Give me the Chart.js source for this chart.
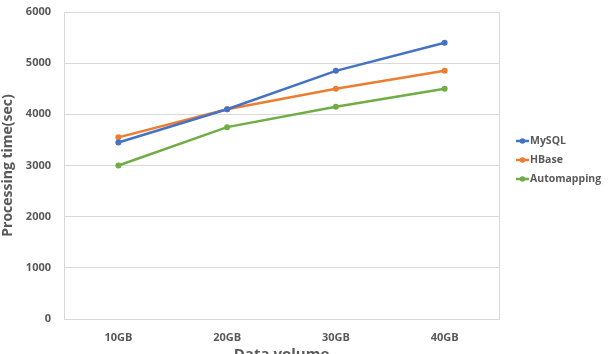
<!DOCTYPE html>
<html>
<head>
<meta charset="utf-8">
<script src="https://cdn.jsdelivr.net/npm/chart.js@4.4.0/dist/chart.umd.min.js"></script>
<style>
  html, body { margin: 0; padding: 0; background: #fff; }
  #wrap { width: 612px; height: 354px; }
</style>
</head>
<body>
<div id="wrap"><canvas id="myChart" width="612" height="354"></canvas></div>
<script>
const labels = ["10GB", "20GB", "30GB", "40GB"];
const mysql = [3450, 4100, 4850, 5400];
const hbase = [3550, 4100, 4500, 4850];
const automapping = [3000, 3750, 4150, 4500];
const yTicks = [0, 1000, 2000, 3000, 4000, 5000, 6000];

const fontFam = "'Open Sans', 'Noto Sans', sans-serif";

// legend drawn at the right like the excel one
const sideLegend = {
    id: 'sideLegend',
    afterDraw(chart) {
        const c = chart.ctx;
        const x = 516, y0 = 141, gap = 19;
        c.save();
        c.font = "bold 10.5px " + fontFam;
        c.textBaseline = 'middle';
        chart.data.datasets.forEach(function(ds, i) {
            const y = y0 + i * gap;
            c.strokeStyle = ds.borderColor;
            c.fillStyle = ds.borderColor;
            c.lineWidth = 2.5;
            c.beginPath();
            c.moveTo(x, y);
            c.lineTo(x + 13, y);
            c.stroke();
            c.beginPath();
            c.arc(x + 6.5, y, 2.8, 0, Math.PI * 2);
            c.fill();
            c.fillStyle = '#595959';
            c.fillText(ds.label, x + 14, y + 0.5);
        });
        c.restore();
    }
};

const ctx = document.getElementById('myChart');

new Chart(ctx, {
    type: 'line',
    data: {
        labels: labels,
        datasets: [{
            label: 'MySQL',
            data: mysql,
            borderColor: '#4472C4',
            backgroundColor: '#4472C4'
        }, {
            label: 'HBase',
            data: hbase,
            borderColor: '#ED7D31',
            backgroundColor: '#ED7D31'
        }, {
            label: 'Automapping',
            data: automapping,
            borderColor: '#70AD47',
            backgroundColor: '#70AD47'
        }]
    },
    options: {
        responsive: false,
        animation: false,
        layout: {
            padding: { left: 0, top: 0, right: 113, bottom: 0 }
        },
        elements: {
            line: { borderWidth: 2.5, tension: 0 },
            point: { radius: 3, borderWidth: 0, pointStyle: 'circle' }
        },
        scales: {
            x: {
                offset: true,
                grid: {
                    drawOnChartArea: false,
                    drawTicks: false,
                    color: '#d9d9d9'
                },
                border: { color: '#d9d9d9', width: 1 },
                ticks: {
                    padding: 12,
                    color: '#595959',
                    font: { family: fontFam, size: 11, weight: 'bold' }
                },
                title: {
                    display: true,
                    text: 'Data volume',
                    color: '#595959',
                    padding: { top: 0, bottom: -10 },
                    font: { family: fontFam, size: 15, weight: 'bold' }
                },
                afterFit: function(s) { s.height = 35; }
            },
            y: {
                min: 0,
                max: 6000,
                afterBuildTicks: function(s) {
                    s.ticks = yTicks.map(function(v) { return { value: v }; });
                },
                grid: {
                    color: '#d9d9d9',
                    drawTicks: false
                },
                border: { color: '#d9d9d9', width: 1 },
                ticks: {
                    padding: 13,
                    color: '#595959',
                    font: { family: fontFam, size: 11, weight: 'bold' },
                    callback: function(v) { return String(v); }
                },
                title: {
                    display: true,
                    text: 'Processing time(sec)',
                    color: '#595959',
                    padding: { top: 0, bottom: 0 },
                    font: { family: fontFam, size: 14, weight: 'bold' }
                },
                afterFit: function(s) {
                    s.width = 64;
                    s.paddingTop = 12;
                }
            }
        },
        plugins: {
            legend: { display: false },
            tooltip: { enabled: false }
        }
    },
    plugins: [sideLegend, {
        // top and right border of plot box
        id: 'boxEdges',
        afterDraw(chart) {
            const a = chart.chartArea, c = chart.ctx;
            c.save();
            c.strokeStyle = '#d9d9d9';
            c.lineWidth = 1;
            c.beginPath();
            c.moveTo(a.left, a.top + 0.5);
            c.lineTo(a.right + 0.5, a.top + 0.5);
            c.lineTo(a.right + 0.5, a.bottom);
            c.stroke();
            c.restore();
        }
    }]
});
</script>
</body>
</html>
